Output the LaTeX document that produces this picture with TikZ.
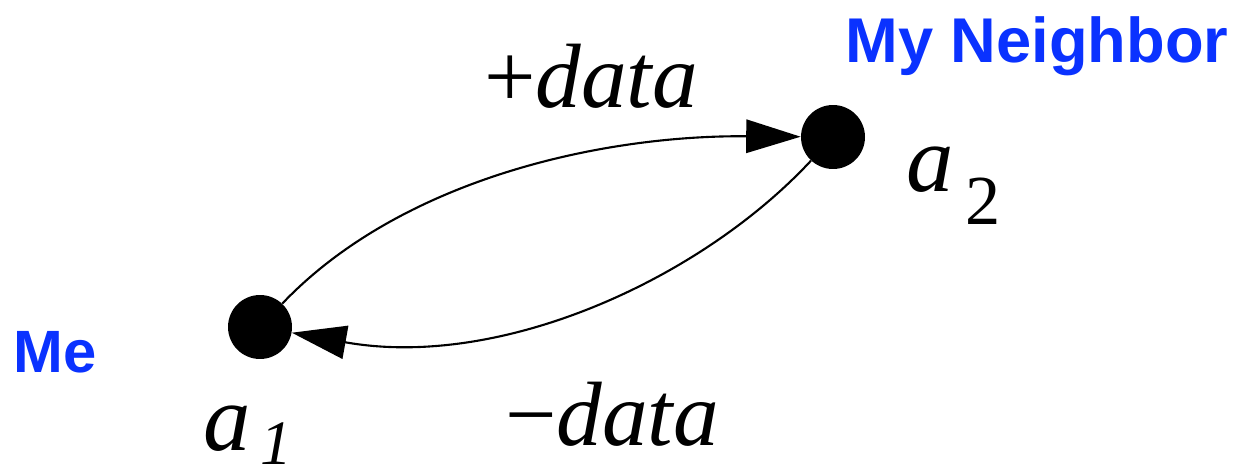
\documentclass[tikz,border=0pt]{standalone}
\usepackage{fontspec}
\setmainfont{Liberation Serif}
\newfontfamily\labelsans{Liberation Sans}
\usetikzlibrary{arrows.meta}
\definecolor{nbblue}{RGB}{10,50,255}
\tikzset{
  agent/.style={circle,fill=black,inner sep=0pt,minimum size=1.28cm},
  msg/.style={line width=1.2pt,-{Triangle[length=31pt,width=19pt]},shorten >=0pt},
  datalabel/.style={inner sep=0pt,anchor=base,font=\fontsize{52}{52}\selectfont},
  agentlabel/.style={inner sep=0pt,anchor=base west,font=\fontsize{54}{54}\selectfont\itshape},
  rolelabel/.style={inner sep=0pt,anchor=base west,text=nbblue,font=\labelsans\bfseries}
}
\begin{document}
\begin{tikzpicture}[x=0.02cm,y=-0.02cm]
\useasboundingbox (0,0) rectangle (1238,476);
\node[agent] (a1) at (260,327) {};
\node[agent] (a2) at (833,137) {};
\draw[msg] (a1) .. controls (400,180) and (600,135) .. (a2);
\draw[msg] (a2) .. controls (700,280) and (500,370) .. (a1);
\node[datalabel] (plus) at (591,108) {+\textit{data}};
\node[datalabel] (minus) at (612,445) {−\textit{data}};
\node[agentlabel] (l2) at (906,192) {a\hspace{0.12em}\raisebox{-0.66cm}{\fontsize{40}{40}\selectfont\upshape 2}};
\node[agentlabel] (l1) at (203,450) {a\hspace{0.1em}\raisebox{-0.3cm}[\height][0pt]{\fontsize{36}{36}\selectfont 1}};
\node[rolelabel,font=\labelsans\bfseries\fontsize{36}{36}\selectfont] (nb) at (845,63) {My Neighbor};
\node[rolelabel,font=\labelsans\bfseries\fontsize{34}{34}\selectfont] (me) at (13,373) {Me};
\end{tikzpicture}
\end{document}
